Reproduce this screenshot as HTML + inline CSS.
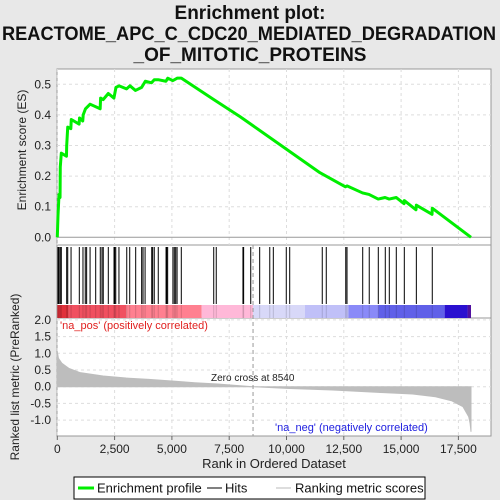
<!DOCTYPE html>
<html><head><meta charset="utf-8"><style>
html,body{margin:0;padding:0;background:#e8e8e8;}
svg{display:block;font-family:"Liberation Sans",sans-serif;}
</style></head><body>
<svg id="c" width="500" height="500" xmlns="http://www.w3.org/2000/svg">
<rect x="0" y="0" width="500" height="500" fill="#e8e8e8"/>
<g font-weight="bold" font-size="19" text-anchor="middle" fill="#111">
<text x="250" y="19">Enrichment plot:</text>
<text x="249" y="40" textLength="494" lengthAdjust="spacingAndGlyphs">REACTOME_APC_C_CDC20_MEDIATED_DEGRADATION</text>
<text x="250" y="61">_OF_MITOTIC_PROTEINS</text>
</g>
<rect x="57" y="69" width="434" height="176" fill="#fff" stroke="#999"/>
<rect x="57" y="245" width="434" height="73" fill="#fff" stroke="#999"/>
<rect x="57" y="318" width="434" height="118" fill="#fff" stroke="#999"/>
<g id="grid"></g>
<g id="colorbar"></g>
<g id="hits"></g>
<g id="metric"></g>
<g id="es"></g>
<g id="axes" font-size="12" fill="#222"></g>
<text x="60" y="329" font-size="11" fill="#e0201f">'na_pos' (positively correlated)</text>
<text x="275" y="431" font-size="11" fill="#2020e0">'na_neg' (negatively correlated)</text>
<text x="211" y="381" font-size="10" fill="#222">Zero cross at 8540</text>
<text x="274" y="468" font-size="13" text-anchor="middle" fill="#222">Rank in Ordered Dataset</text>
<text transform="translate(26,150) rotate(-90)" font-size="12" text-anchor="middle" fill="#222">Enrichment score (ES)</text>
<text transform="translate(19,377) rotate(-90)" font-size="12" text-anchor="middle" fill="#222">Ranked list metric (PreRanked)</text>
<g>
<rect x="74" y="477" width="351" height="22" fill="#fff" stroke="#000"/>
<line x1="78" y1="488" x2="94" y2="488" stroke="#00ee00" stroke-width="3"/>
<text x="97" y="492.5" font-size="13" fill="#111">Enrichment profile</text>
<line x1="207" y1="488" x2="222" y2="488" stroke="#000"/>
<text x="225" y="492.5" font-size="13" fill="#111">Hits</text>
<line x1="276" y1="488" x2="291" y2="488" stroke="#bbb"/>
<text x="295" y="492.5" font-size="13" fill="#111">Ranking metric scores</text>
</g>
</svg>
<script>
const hitRanks=[30,75,130,175,410,455,600,960,1120,1220,1280,1430,1675,1875,1950,2005,2225,2475,2505,2550,2690,3030,3160,3420,3680,3740,3830,4120,4160,4230,4405,4745,4775,4815,5045,5105,5165,5225,5410,6825,6935,8100,8130,8440,8830,9270,9425,9990,10140,11560,11735,12585,12640,13325,13610,14005,14310,14485,14790,15140,15665,16360];
const esRanks=[0,30,75,120,130,175,400,410,455,590,610,950,970,1110,1130,1230,1430,1870,1890,2000,2225,2470,2560,2700,3020,3170,3410,3680,3840,4110,4230,4400,4740,4820,5040,5230,5410,6830,7980,11460,12570,12640,13320,13600,14000,14300,14480,14790,15130,15140,15650,15665,16350,16360,18050];
const esValues=[0,0.07,0.14,0.13,0.23,0.275,0.265,0.30,0.36,0.355,0.385,0.37,0.39,0.38,0.40,0.42,0.435,0.42,0.455,0.45,0.47,0.455,0.49,0.495,0.485,0.495,0.48,0.49,0.51,0.505,0.515,0.515,0.51,0.52,0.512,0.52,0.52,0.45,0.394,0.211,0.165,0.168,0.145,0.14,0.125,0.13,0.125,0.13,0.11,0.12,0.09,0.105,0.075,0.095,0];
const metricRanks=[0,50,200,500,1000,2000,3000,4000,5000,6000,7000,8540,10000,12000,14000,15500,16500,17200,17700,17950,18010,18050];
const metricValues=[1.05,0.85,0.7,0.55,0.42,0.32,0.26,0.22,0.17,0.12,0.08,0,-0.05,-0.1,-0.17,-0.22,-0.3,-0.42,-0.6,-0.9,-1.1,-1.35];
const xTicks=[0,2500,5000,7500,10000,12500,15000,17500];
const xTickLabels=["0","2,500","5,000","7,500","10,000","12,500","15,000","17,500"];
const esTicks=[0,0.1,0.2,0.3,0.4,0.5];
const esTickLabels=["0.0","0.1","0.2","0.3","0.4","0.5"];
const mTicks=[2,1.5,1,0.5,0,-0.5,-1];
const mTickLabels=["2.0","1.5","1.0","0.5","0.0","-0.5","-1.0"];
const zeroCross=8540;
const barColors=["#e0303a","#f05060","#ff8090","#ffb8d8","#d8d8f8","#c0c0f8","#8a8af8","#6060e8","#2a10d0","#5010a0"];
const barEdges=[0,500,3000,6300,8540,10800,12700,14000,16900,17900,18050];
const NS="http://www.w3.org/2000/svg";
const X=r=>57.3+r*0.02292;
const YE=v=>237.3-v*306;
const YM=v=>386.7-v*33.4;
function mk(tag,attrs,parent){const e=document.createElementNS(NS,tag);for(const k in attrs)e.setAttribute(k,attrs[k]);document.getElementById(parent).appendChild(e);return e;}
xTicks.forEach(t=>{
 [[69,245],[318,436]].forEach(([a,b])=>{const l=mk('line',{x1:X(t),x2:X(t),y1:a,y2:b,stroke:'#ddd','stroke-dasharray':'3,3'},'grid');
 
 });
});
esTicks.forEach(t=>{const l=mk('line',{x1:57,x2:491,y1:YE(t),y2:YE(t),stroke:t===0?'#999':'#ddd','stroke-dasharray':t===0?'':'3,3'},'grid');
 
 });
mTicks.forEach(t=>{const l=mk('line',{x1:57,x2:491,y1:YM(t),y2:YM(t),stroke:'#ddd','stroke-dasharray':'3,3'},'grid');
 
 });
for(let i=0;i<barColors.length;i++){const r=mk('rect',{x:X(barEdges[i]),y:305,width:X(barEdges[i+1])-X(barEdges[i]),height:13,fill:barColors[i]},'colorbar');
 
 }
hitRanks.forEach(h=>{const l=mk('line',{x1:X(h),x2:X(h),y1:247,y2:304,stroke:'#000','stroke-width':1},'hits');
 
 
 const c=mk('line',{x1:X(h),x2:X(h),y1:305,y2:318,stroke:'rgba(0,0,0,0.15)'},'hits');
 
 });
let d='M'+X(0)+','+YM(0);
metricRanks.forEach((r,i)=>{d+=' L'+X(r)+','+YM(metricValues[i]);});
d+=' L'+X(metricRanks[metricRanks.length-1])+','+YM(0)+' Z';
const area=mk('path',{d:d,fill:'#bdbdbd',stroke:'#bdbdbd'},'metric');


const zl=mk('line',{x1:X(zeroCross),x2:X(zeroCross),y1:245,y2:436,stroke:'#999','stroke-dasharray':'4,3'},'metric');


const pts=esRanks.map((r,i)=>X(r)+','+YE(esValues[i])).join(' ');
const pl=mk('polyline',{points:pts,fill:'none',stroke:'#00ee00','stroke-width':3,'stroke-linejoin':'round'},'es');


xTicks.forEach((t,i)=>{const l=mk('line',{x1:X(t),x2:X(t),y1:436,y2:440,stroke:'#666'},'axes');
 
 
 const tx=mk('text',{x:X(t),y:453,'text-anchor':'middle'},'axes');tx.textContent=xTickLabels[i];
 
 });
esTicks.forEach((t,i)=>{const tx=mk('text',{x:51,y:YE(t)+4,'text-anchor':'end'},'axes');tx.textContent=esTickLabels[i];
 
 });
mTicks.forEach((t,i)=>{const tx=mk('text',{x:51,y:YM(t)+4,'text-anchor':'end'},'axes');tx.textContent=mTickLabels[i];
 
 });
</script>
</body></html>
